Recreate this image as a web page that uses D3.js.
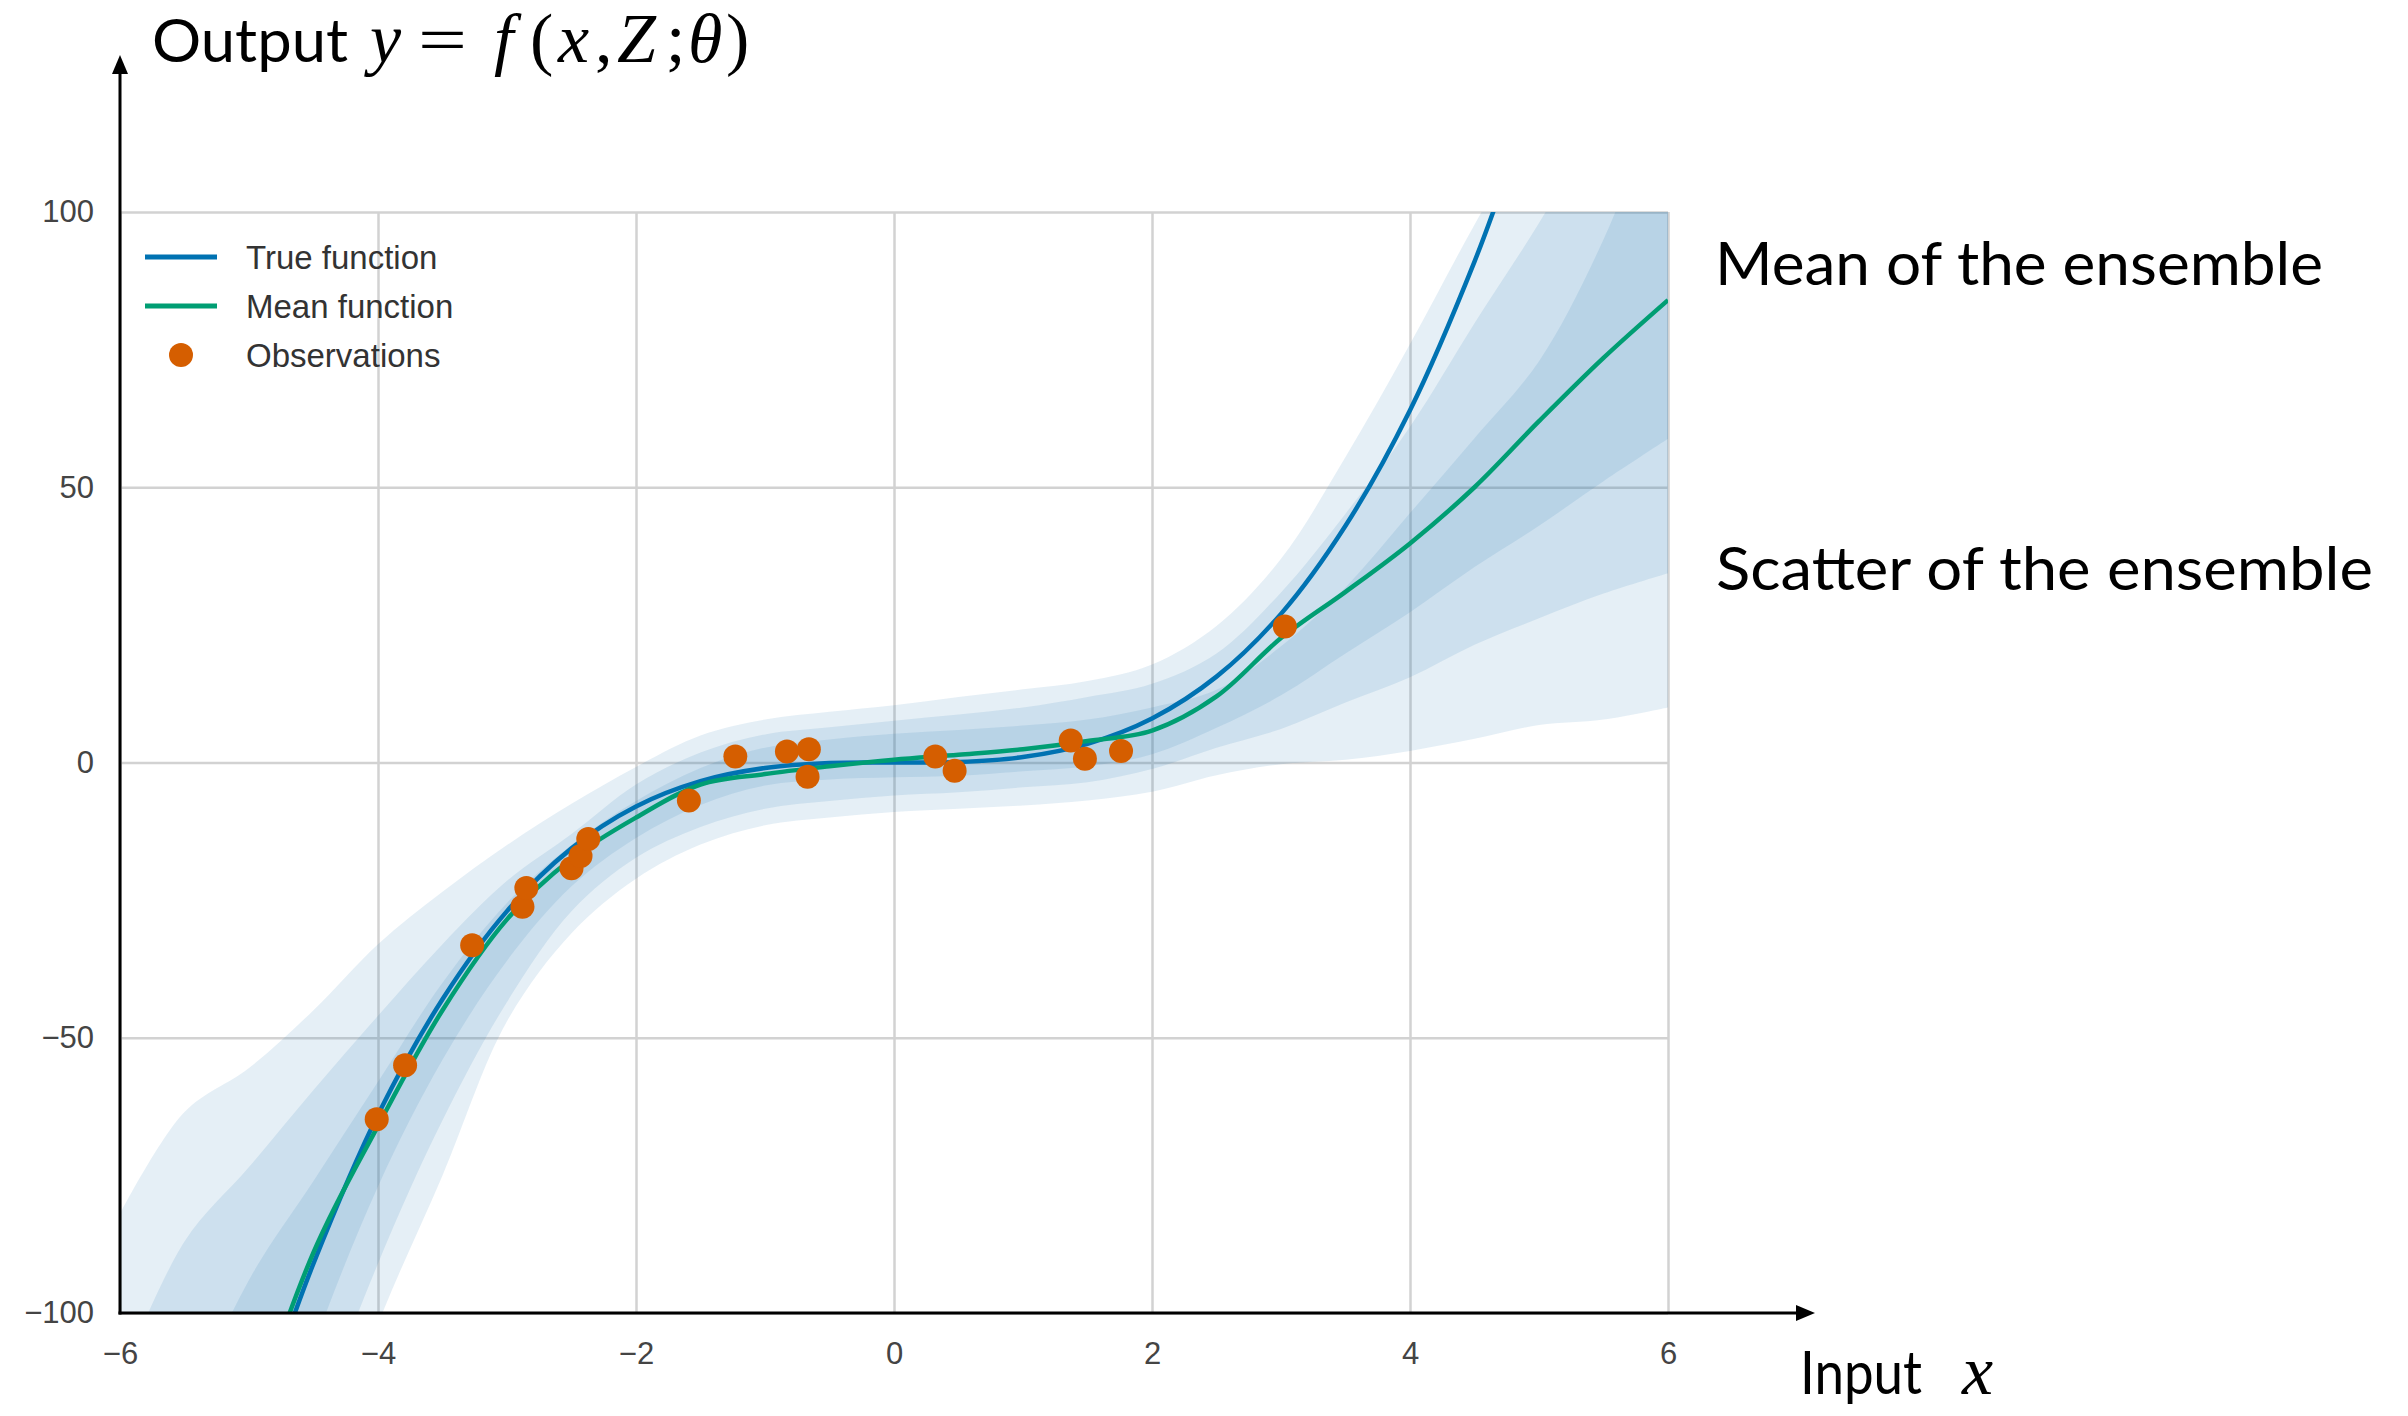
<!DOCTYPE html>
<html>
<head>
<meta charset="utf-8">
<script src="https://cdn.jsdelivr.net/npm/d3@7"></script>
<style>
  body { margin: 0; background: #fff; }
</style>
</head>
<body>
<div id="chart"></div>
<script>
// input grid the ensemble bands and the mean were read at
var gridX = [-6, -5.5, -5, -4.5, -4, -3.5, -3, -2.5, -2, -1.5, -1, -0.5, 0, 0.5, 1, 1.5, 2, 2.5, 3, 3.5, 4, 4.5, 5, 5.5, 6];

// band edges (outer / middle / inner), values below -100 or above 100 get clipped
var outerHi = [-82, -63.5, -55.5, -45, -33, -23.5, -15, -7.5, -0.8, 4.9, 7.8, 9.2, 10.4, 11.9, 13.3, 14.8, 17.8, 24.8, 37, 55.5, 76, 97.7, 118, 140, 160];
var midHi   = [-112, -87, -73.5, -59.5, -46, -33, -21.5, -13, -4, 1.8, 5.1, 6.4, 7.6, 8.7, 10, 11.9, 14.3, 19.8, 30.9, 45.2, 61, 79.8, 98, 118, 135];
var innerHi = [-160, -120, -94, -76, -58, -40, -25.5, -15, -7, -1, 2.7, 4.2, 5.2, 5.9, 6.7, 7.8, 10, 13.2, 21.1, 31.8, 45.3, 58.9, 72.9, 95, 125];
var innerLo = [-230, -185, -140, -106, -77, -54, -36, -22.5, -13.7, -7.7, -4.2, -3.1, -2.7, -2.4, -1.6, -0.7, 1.5, 6.3, 12.2, 19.8, 27.3, 35.5, 43, 51.1, 58.8];
var midLo   = [-250, -200, -160, -122, -91, -65, -43.5, -27, -17.3, -11.7, -8.4, -7, -6, -5.4, -4.5, -3.6, -1.2, 2.7, 6.1, 10.9, 15.5, 21.4, 26.2, 30.7, 34.4];
var outerLo = [-260, -210, -170, -135, -102, -75, -47, -31, -21.1, -14.9, -11.4, -10, -9, -8.4, -7.8, -6.9, -5.3, -2.3, -0.3, 0.5, 2.1, 4.3, 6.8, 7.8, 10];

// mean of the ensemble
var meanY = [-215, -165, -122, -89, -66, -45, -28.5, -17.5, -10, -4, -2.1, -0.7, 0.5, 1.4, 2.4, 3.9, 5.8, 12, 22.6, 31, 39.8, 50, 62, 73.5, 84];

// true function
var trueX = [-4.75, -4.5, -4, -3.5, -3, -2.5, -2, -1.5, -1, -0.5, 0, 0.5, 1, 1.5, 2, 2.5, 3, 3.5, 4, 4.5, 4.75];
var trueY = [-107, -91, -64, -43, -27, -15.6, -8, -3.4, -1, -0.1, 0, 0.1, 1, 3.4, 8, 15.6, 27, 43, 64, 91, 107];

// observations
var obsX = [-4.01, -3.79, -3.27, -2.88, -2.85, -2.5, -2.43, -2.37, -1.59, -1.23, -0.83, -0.66, -0.67, 0.32, 0.47, 1.37, 1.48, 1.76, 3.03];
var obsY = [-64.8, -55.0, -33.2, -26.2, -22.8, -19.2, -17.0, -13.9, -6.9, 1.1, 2.0, 2.4, -2.6, 1.1, -1.5, 4.0, 0.7, 2.1, 24.7];

var xTicks = [-6, -4, -2, 0, 2, 4, 6];
var yTicks = [-100, -50, 0, 50, 100];
var legendLabels = ["True function", "Mean function", "Observations"];

var W = 2408, H = 1416;
var blue = "#0072B2", green = "#009E73", orange = "#D55E00";

var svg = d3.select("#chart").append("svg")
    .attr("width", W)
    .attr("height", H)
    .style("display", "block");

var x = d3.scaleLinear().domain([-6, 6]).range([120, 1668]);
var y = d3.scaleLinear().domain([-100, 100]).range([1313, 212]);

// grid lines + tick labels
var xAxisG = svg.append("g")
    .attr("transform", "translate(0," + y(-100) + ")")
    .call(d3.axisBottom(x).tickValues(xTicks).tickSize(-(y(-100) - y(100))).tickPadding(29).tickFormat(d3.format("d")));
var yAxisG = svg.append("g")
    .attr("transform", "translate(" + x(-6) + ",0)")
    .call(d3.axisLeft(y).tickValues(yTicks).tickSize(-(x(6) - x(-6))).tickPadding(26).tickFormat(d3.format("d")));

[xAxisG, yAxisG].forEach(function(g) {
    g.select(".domain").remove();
    g.selectAll(".tick line").attr("stroke", "#d2d2d2").attr("stroke-width", 2.5);
    g.selectAll(".tick text")
        .attr("font-family", "'Liberation Sans', Arial, sans-serif")
        .attr("font-size", 31)
        .attr("fill", "#444");
});

svg.append("clipPath").attr("id", "plotclip")
  .append("rect")
    .attr("x", x(-6)).attr("y", y(100))
    .attr("width", x(6) - x(-6)).attr("height", y(-100) - y(100));

var plot = svg.append("g").attr("clip-path", "url(#plotclip)");

// ensemble scatter bands, stacked translucent fills
var bands = [[outerLo, outerHi], [midLo, midHi], [innerLo, innerHi]];
var area = d3.area()
    .x(function(d) { return x(d.x); })
    .y0(function(d) { return y(d.lo); })
    .y1(function(d) { return y(d.hi); })
    .curve(d3.curveCatmullRom);

bands.forEach(function(b) {
    var pts = gridX.map(function(v, i) { return {x: v, lo: b[0][i], hi: b[1][i]}; });
    plot.append("path")
        .datum(pts)
        .attr("d", area)
        .attr("fill", "rgb(20,110,170)")
        .attr("fill-opacity", 0.11);
});

var line = d3.line()
    .x(function(d) { return x(d[0]); })
    .y(function(d) { return y(d[1]); })
    .curve(d3.curveCatmullRom);

plot.append("path")
    .datum(trueX.map(function(v, i) { return [v, trueY[i]]; }))
    .attr("d", line)
    .attr("fill", "none")
    .attr("stroke", blue)
    .attr("stroke-width", 4.5);

plot.append("path")
    .datum(gridX.map(function(v, i) { return [v, meanY[i]]; }))
    .attr("d", line)
    .attr("fill", "none")
    .attr("stroke", green)
    .attr("stroke-width", 4.5);

svg.append("g")
    .selectAll("circle")
    .data(obsX.map(function(v, i) { return [v, obsY[i]]; }))
    .join("circle")
        .attr("cx", function(d) { return x(d[0]); })
        .attr("cy", function(d) { return y(d[1]); })
        .attr("r", 12)
        .attr("fill", orange);

// legend
var legend = svg.append("g").attr("transform", "translate(145,257)");
legendLabels.forEach(function(lab, i) {
    var row = legend.append("g").attr("transform", "translate(0," + (i * 49) + ")");
    if (i < 2) {
        row.append("line")
            .attr("x1", 0).attr("x2", 72)
            .attr("stroke", i == 0 ? blue : green)
            .attr("stroke-width", 5);
    } else {
        row.append("circle").attr("cx", 36).attr("r", 12).attr("fill", orange);
    }
    row.append("text")
        .attr("x", 101)
        .attr("dy", "0.36em")
        .attr("font-family", "'Liberation Sans', Arial, sans-serif")
        .attr("font-size", 33)
        .attr("fill", "#333")
        .text(lab);
});

// black arrow axes
var axes = svg.append("g").attr("stroke", "#000").attr("stroke-width", 3);
axes.append("line").attr("x1", x(-6)).attr("y1", y(-100) + 1.5).attr("x2", x(-6)).attr("y2", 72);
axes.append("line").attr("x1", x(-6) - 1.5).attr("y1", y(-100)).attr("x2", 1800).attr("y2", y(-100));
svg.append("path").attr("d", "M" + x(-6) + ",55 L" + (x(-6) - 8) + ",74 L" + (x(-6) + 8) + ",74 Z").attr("fill", "#000");
svg.append("path").attr("d", "M1815," + y(-100) + " L1796," + (y(-100) - 8) + " L1796," + (y(-100) + 8) + " Z").attr("fill", "#000");

// annotations
var sans = "Lato, 'Open Sans', sans-serif";
var serif = "'Liberation Serif', 'DejaVu Serif', serif";

function label(txt, px, py, len) {
    svg.append("text")
        .attr("x", px).attr("y", py)
        .attr("font-family", sans)
        .attr("font-size", 60)
        .attr("fill", "#000")
        .attr("textLength", len)
        .attr("lengthAdjust", "spacingAndGlyphs")
        .text(txt);
}
function mathGlyph(txt, px, py, italic, size, len) {
    var t = svg.append("text")
        .attr("x", px).attr("y", py)
        .attr("font-family", serif)
        .attr("font-size", size || 70)
        .attr("font-style", italic ? "italic" : "normal")
        .attr("fill", "#000")
        .text(txt);
    if (len) t.attr("textLength", len).attr("lengthAdjust", "spacingAndGlyphs");
}

label("Output", 152, 62, 196);
mathGlyph("y", 370, 62, true);
mathGlyph("=", 418, 62, false, 66, 49);
mathGlyph("f", 494, 62, true);
mathGlyph("(", 530, 62, false);
mathGlyph("x", 558, 62, true);
mathGlyph(",", 595, 62, false);
mathGlyph("Z", 617, 62, true);
mathGlyph(";", 666, 62, false);
mathGlyph("θ", 688, 62, true);
mathGlyph(")", 726, 62, false);

label("Mean of the ensemble", 1715, 285, 608);
label("Scatter of the ensemble", 1716, 590, 657);

label("Input", 1800, 1394, 122);
mathGlyph("x", 1962, 1394, true);
</script>
</body>
</html>
